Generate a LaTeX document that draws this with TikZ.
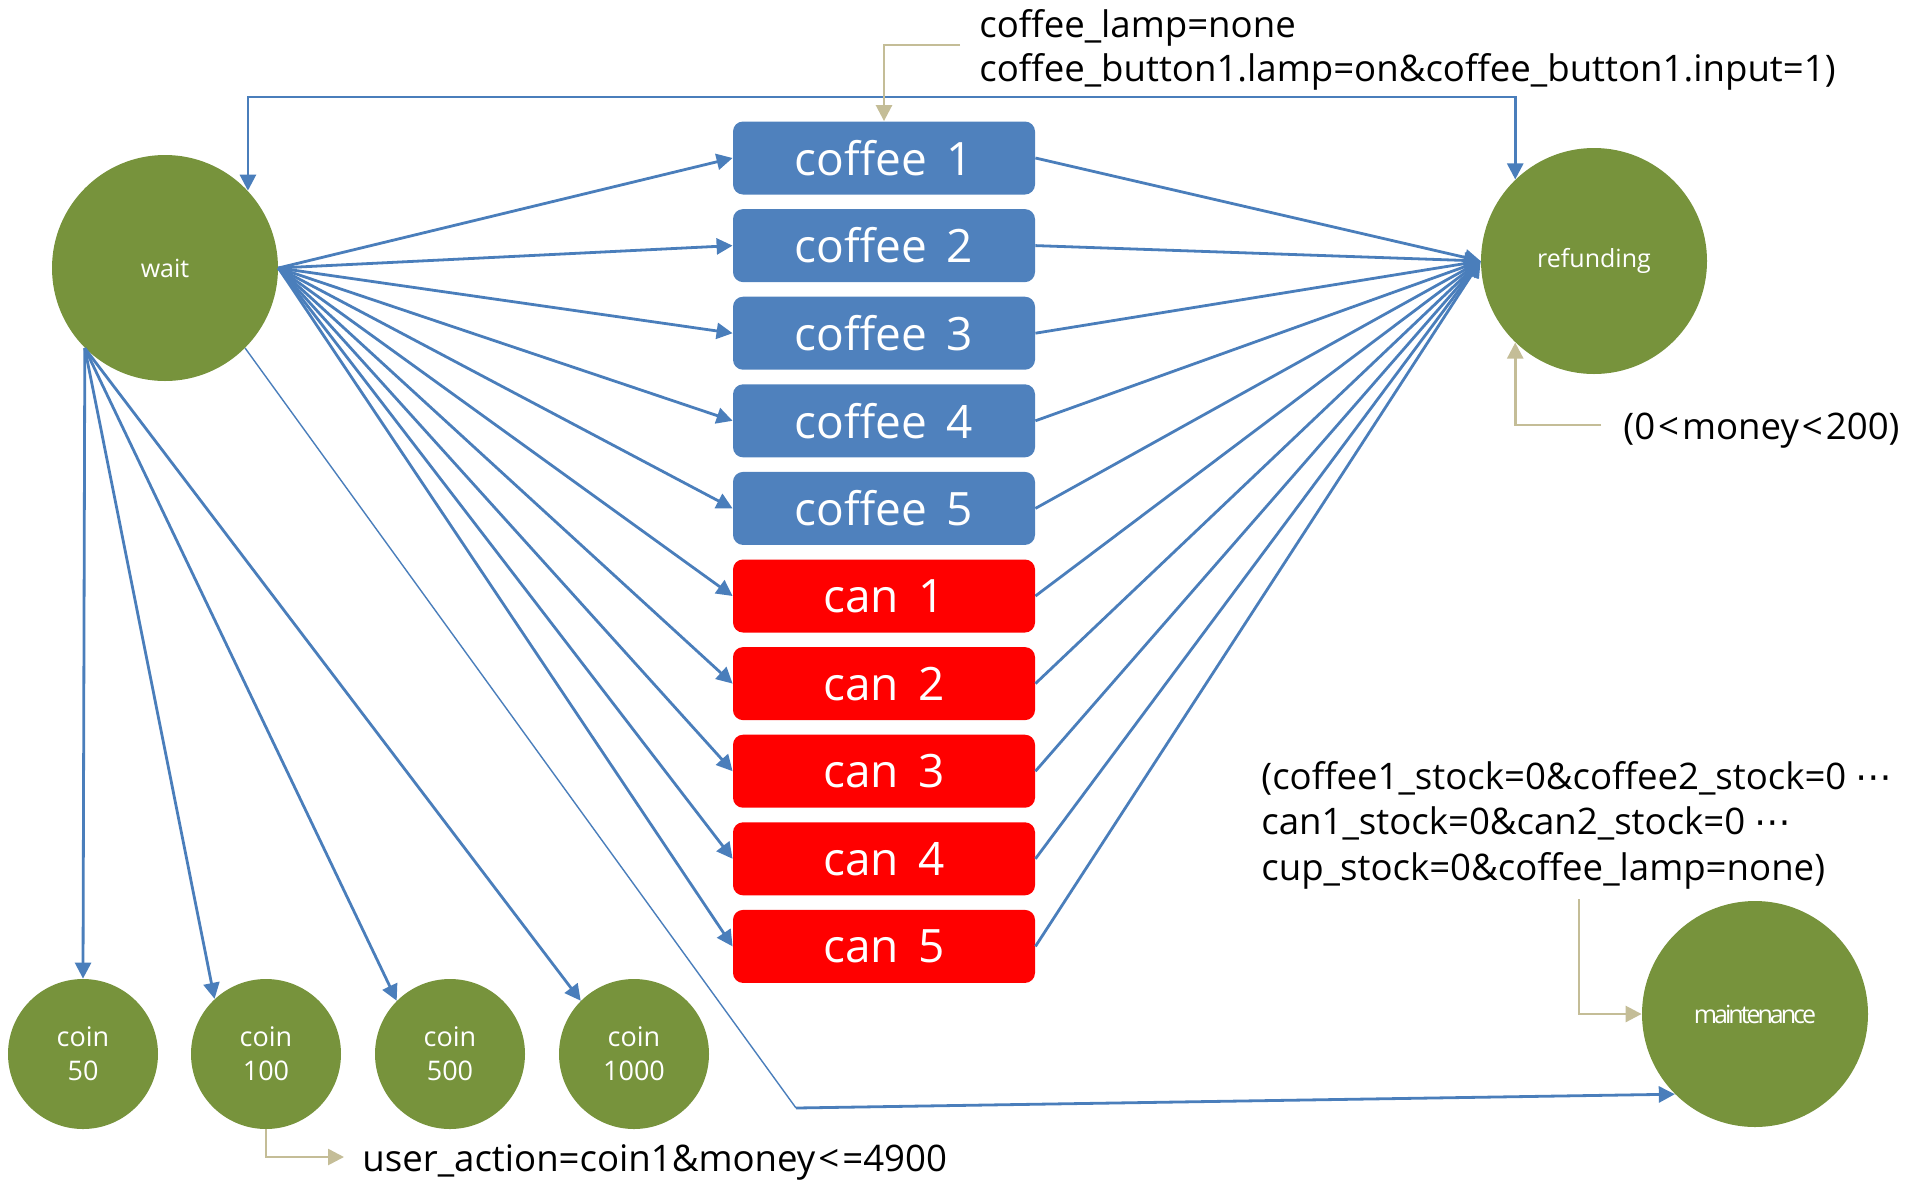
\documentclass[tikz,border=0pt]{standalone}
\usepackage{fontspec}
\setmainfont{Open Sans}
\newfontfamily\symfont{DejaVu Sans}
\usetikzlibrary{arrows.meta}
\definecolor{olive}{RGB}{119,147,60}
\definecolor{boxblue}{RGB}{79,129,189}
\definecolor{linkblue}{RGB}{74,126,187}
\definecolor{tanline}{RGB}{196,189,151}
\newcommand{\midots}{{\symfont ⋯}}
\newcommand{\lsign}{\kern1.5pt<\kern1.5pt}

\begin{document}
\begin{tikzpicture}[x=0.5pt,y=-0.5pt,
  statenode/.style={circle,fill=olive,text=white,inner sep=0pt,minimum size=113pt,
    font=\fontsize{12.5}{15}\selectfont},
  coinnode/.style={circle,fill=olive,text=white,inner sep=0pt,minimum size=75pt,
    align=center,font=\fontsize{13.5}{17}\selectfont},
  coffeebox/.style={rounded corners=5pt,fill=boxblue,text=white,minimum width=151pt,
    minimum height=36.5pt,inner sep=0pt,font=\fontsize{23}{26}\selectfont},
  canbox/.style={coffeebox,fill=red},
  link/.style={draw=linkblue,line width=1.4pt,-{Triangle[length=8pt,width=8pt]}},
  note/.style={draw=tanline,line width=1.3pt,-{Triangle[length=8pt,width=8pt]}},
  notetext/.style={inner sep=0pt,anchor=west,align=left,font=\fontsize{18.3}{22}\selectfont}
]
\useasboundingbox (0,0) rectangle (1905,1179);

% states
\node[statenode] (wait) at (165,268) {wait};
\node[statenode] (refund) at (1594,261) {refunding};
\node[statenode,font=\fontsize{12.5}{15}\selectfont\addfontfeatures{LetterSpace=-12}] (maint) at (1755,1014) {maintenance};

% coins
\node[coinnode] (coin50) at (83,1054) {coin\\50};
\node[coinnode] (coin100) at (266,1054) {coin\\100};
\node[coinnode] (coin500) at (450,1054) {coin\\500};
\node[coinnode] (coin1000) at (634,1054) {coin\\1000};

% product buttons
\foreach \i in {1,...,5} {
  \node[coffeebox] (c\i) at (884,{158+87.6*(\i-1)}) {coffee\, \i};
  \node[canbox] (k\i) at (884,{158+87.6*(\i+4)}) {can\, \i};
}

% wait -> product -> refunding
\foreach \n in {c1,c2,c3,c4,c5,k1,k2,k3,k4,k5} {
  \draw[link] (wait.east) -- (\n.west);
  \draw[link] (\n.east) -- (refund.west);
}

% loop between wait and refunding
\draw[link,{Triangle[length=8pt,width=8pt]}-{Triangle[length=8pt,width=8pt]}]
  (wait.43.5) -- (wait.43.5 |- 0,97) -| (refund.134.5);

% coin inputs
\draw[link] (wait.225) -- (coin50.north);
\draw[link] (wait.225) -- (coin100.133);
\draw[link] (wait.225) -- (coin500.135);
\draw[link] (wait.225) -- (coin1000.135);

% wait -> maintenance
\coordinate (bend) at (796,1108);
\draw[linkblue,line width=0.7pt] (wait.-45) -- (bend);
\draw[link] (bend) -- (maint.225);

% condition notes
\coordinate (n1) at (960,45);
\coordinate (n2) at (1601,425);
\coordinate (n3) at (1579,899);
\coordinate (n4) at (344,1157);
\draw[note] (n1) -| (c1.north);
\draw[note] (n2) -| (refund.226);
\draw[note] (n3) |- (maint.west);
\draw[note] (coin100.south) |- (n4);

\node[notetext] (t1) at (979,50)
  {coffee\_lamp=none\\coffee\_button1.lamp=on\&coffee\_button1.input=1)};
\node[notetext] (t2) at (1623,431) {(0\lsign money\lsign 200)};
\node[notetext,font=\fontsize{18.3}{22.75}\selectfont] (t3) at (1261,825)
  {(coffee1\_stock=0\&coffee2\_stock=0 \midots\\can1\_stock=0\&can2\_stock=0 \midots\\cup\_stock=0\&coffee\_lamp=none)};
\node[notetext] (t4) at (362,1162) {user\_action=coin1\&money\lsign=4900};
\end{tikzpicture}
\end{document}
